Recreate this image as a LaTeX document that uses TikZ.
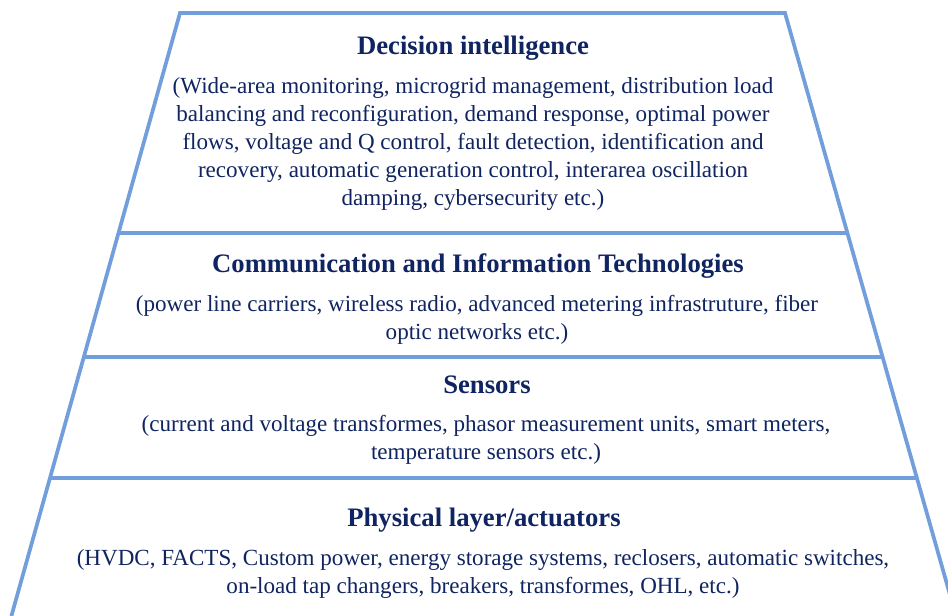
\documentclass[tikz,border=0pt]{standalone}
\usepackage{fontspec}
\setmainfont{Liberation Serif}
\usetikzlibrary{calc}
\definecolor{layerline}{RGB}{114,159,220}
\definecolor{layertext}{RGB}{15,36,96}
\tikzset{
  edge/.style={draw=layerline, line width=2.8pt},
  ttl/.style={text=layertext, font=\fontsize{20}{23}\selectfont\bfseries, inner sep=0pt},
  body/.style={text=layertext, font=\fontsize{17.3}{21}\selectfont, align=center, inner sep=0pt}
}
\begin{document}
\begin{tikzpicture}[x=0.75pt,y=-0.75pt]
	\useasboundingbox (0,0) rectangle (948,616);
	\clip (0,0) rectangle (948,616);
\coordinate (tl) at (180,13);
\coordinate (tr) at (785,13);
\coordinate (bl) at (11.4,616);
\coordinate (br) at (956,616);
\draw[edge, line join=miter] (bl)--(tl)--(tr)--(br);
\draw[edge] ($(tl)!0.3648!(bl)$)--($(tr)!0.3648!(br)$);
\draw[edge] ($(tl)!0.5705!(bl)$)--($(tr)!0.5705!(br)$);
\draw[edge] ($(tl)!0.7711!(bl)$)--($(tr)!0.7711!(br)$);
\node[ttl] (decT) at (473,48) {Decision intelligence};
\node[body] (decB) at (473,144) {(Wide-area monitoring, microgrid management, distribution load\\
balancing and reconfiguration, demand response, optimal power\\
flows, voltage and Q control, fault detection, identification and\\
recovery, automatic generation control, interarea oscillation\\
damping, cybersecurity etc.)};
\node[ttl] (comT) at (478,266) {Communication and Information Technologies};
\node[body] (comB) at (477,320) {(power line carriers, wireless radio, advanced metering infrastruture, fiber\\
optic networks etc.)};
\node[ttl] (senT) at (487,385) {Sensors};
\node[body] (senB) at (486,440) {(current and voltage transformes, phasor measurement units, smart meters,\\
temperature sensors etc.)};
\node[ttl] (phyT) at (484,520) {Physical layer/actuators};
\node[body] (phyB) at (483,574) {(HVDC, FACTS, Custom power, energy storage systems, reclosers, automatic switches,\\
on-load tap changers, breakers, transformes, OHL, etc.)};
	\end{tikzpicture}
\end{document}
